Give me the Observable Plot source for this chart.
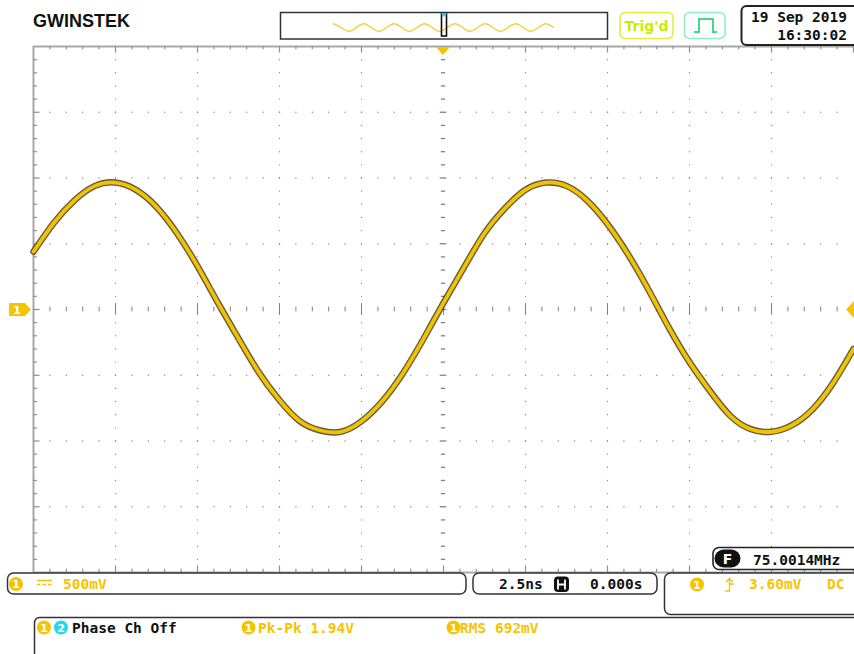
<!DOCTYPE html>
<html><head><meta charset="utf-8">
<script src="https://cdn.jsdelivr.net/npm/d3@7"></script>
<script src="https://cdn.jsdelivr.net/npm/@observablehq/plot@0.6"></script>
<style>
body{margin:0;background:#fff;}
#scope{position:relative;width:854px;height:654px;overflow:hidden;background:#fff;}
#scope svg{position:absolute;left:0;top:0;}
</style></head>
<body>
<div id="scope"></div>
<script>
// ---- data (channel 1 trace, 2.5 ns/div, 500 mV/div) ----
const timeNs = [-12.5,-11.875,-11.25,-10.625,-10,-9.375,-8.75,-8.125,-7.5,-6.875,-6.25,-5.625,-5,-4.375,-3.75,-3.125,-2.5,-1.875,-1.25,-0.625,0,0.625,1.25,1.875,2.5,3.125,3.75,4.375,5,5.625,6.25,6.875,7.5,8.125,8.75,9.375,10,10.625,11.25,11.875,12.5];
const voltsV = [0.44,0.66,0.83,0.94,0.965,0.91,0.78,0.58,0.33,0.05,-0.22,-0.48,-0.69,-0.85,-0.92,-0.93,-0.85,-0.70,-0.49,-0.23,0.05,0.32,0.58,0.77,0.91,0.965,0.94,0.83,0.65,0.42,0.15,-0.14,-0.40,-0.62,-0.81,-0.91,-0.93,-0.88,-0.76,-0.56,-0.30];
const xMajorNs = [-12.5,-10,-7.5,-5,-2.5,0,2.5,5,7.5,10,12.5];
const yMajorV = [-2,-1.5,-1,-0.5,0,0.5,1,1.5,2];
// overview strip (whole memory) : normalized samples at quarter periods
const miniWave = [1,0,-1,0,1,0,-1,0,1,0,-1,0,1,0,-1,0,1,0,-1,0,1,0,-1,0,1,0,-1,0,1,0];

const Y = "#f7c300";
const trace = timeNs.map((t, i) => ({t, v: voltsV[i]}));
const xMinor = d3.range(0, 51).map(i => +(-12.5 + i * 0.5).toFixed(2));
const yMinor = d3.range(0, 41).map(i => +(-2 + i * 0.1).toFixed(2));
const xMajorSet = new Set(xMajorNs), yMajorSet = new Set(yMajorV);

const gridV = xMajorNs.filter(x => x > -12.5 && x < 12.5 && x !== 0)
  .flatMap(x => yMinor.filter(y => y > -2 && y < 2).map(y => ({x, y})));
const gridH = yMajorV.filter(y => y > -2 && y < 2 && y !== 0)
  .flatMap(y => xMinor.filter(x => x > -12.5 && x < 12.5 && x !== 0).map(x => ({x, y})));
const cY = yMinor.filter(y => y > -2 && y < 2).map(y => ({y, big: yMajorSet.has(y)}));
const cX = xMinor.filter(x => x > -12.5 && x < 12.5).map(x => ({x, big: xMajorSet.has(x)}));

const chart = Plot.plot({
  width: 854, height: 654,
  marginLeft: 33, marginRight: 1, marginTop: 46, marginBottom: 82,
  x: {domain: [-12.5, 12.5], axis: null},
  y: {domain: [-2, 2], axis: null},
  style: {background: "transparent"},
  marks: [
    Plot.dot(gridV, {x: "x", y: "y", r: 0.7, fill: "#8a8a8a", stroke: null}),
    Plot.dot(gridH, {x: "x", y: "y", r: 0.7, fill: "#8a8a8a", stroke: null}),
    // centre cross
    Plot.ruleY(cY, {y: "y", x1: d => d.big ? -0.1 : -0.065, x2: d => d.big ? 0.1 : 0.065, stroke: "#808080", strokeWidth: 1.3}),
    Plot.ruleX(cX, {x: "x", y1: d => d.big ? -0.045 : -0.018, y2: d => d.big ? 0.045 : 0.018, stroke: "#808080", strokeWidth: 1}),
    // frame
    Plot.ruleY([2], {stroke: "#a8a8a8", strokeWidth: 2}),
    Plot.ruleY([-2], {stroke: "#a8a8a8", strokeWidth: 2}),
    Plot.ruleX([-12.5], {stroke: "#a8a8a8", strokeWidth: 2}),
    Plot.ruleX(xMinor.filter(x => x > -12.5), {x: d => d, y1: 2, y2: d => xMajorSet.has(d) ? 1.95 : 1.975, stroke: "#909090", strokeWidth: 1.2}),
    Plot.ruleX(xMinor.filter(x => x > -12.5), {x: d => d, y1: -2, y2: d => xMajorSet.has(d) ? -1.95 : -1.975, stroke: "#909090", strokeWidth: 1.2}),
    Plot.ruleY(yMinor.filter(y => y > -2 && y < 2), {y: d => d, x1: -12.5, x2: d => yMajorSet.has(d) ? -12.3 : -12.38, stroke: "#909090", strokeWidth: 1.2}),
    // trace (noise envelope + yellow core)
    Plot.line(trace, {x: "t", y: "v", curve: "natural", stroke: "#2e2400", strokeWidth: 6.5, strokeOpacity: 0.75}),
    Plot.line(trace, {x: "t", y: "v", curve: "natural", stroke: "#f2c200", strokeWidth: 3.8})
  ]
});
const scope = document.getElementById("scope");
scope.appendChild(chart);

// overview strip as its own small plot
const mini = Plot.plot({
  width: 222, height: 14, margin: 1,
  x: {domain: [0, miniWave.length - 1], axis: null},
  y: {domain: [-1.6, 1.6], axis: null},
  marks: [Plot.line(miniWave, {x: (d, i) => i, y: d => d, curve: "natural", stroke: "#f5cf3a", strokeWidth: 1.4})]
});
mini.style.position = "absolute"; mini.style.left = "332px"; mini.style.top = "19.5px";

// ---- oscilloscope chrome ----
const M = 'font-family="DejaVu Sans Mono" font-weight="bold" font-size="14.5"';
const circ = (cx, cy, col, d) => `<circle cx="${cx}" cy="${cy}" r="7" fill="${col}"/><text x="${cx}" y="${cy + 4}" text-anchor="middle" font-family="DejaVu Sans" font-weight="bold" font-size="11" fill="#fff">${d}</text>`;
const chrome = `
<svg width="854" height="654" xmlns="http://www.w3.org/2000/svg">
 <text x="33" y="27" font-family="Liberation Sans" font-weight="900" font-size="19" fill="#111" textLength="97" lengthAdjust="spacingAndGlyphs">GWINSTEK</text>
 <rect x="280.5" y="12.5" width="327" height="26.5" fill="none" stroke="#333" stroke-width="1.5"/>
 <rect x="620" y="12.5" width="53" height="26" rx="5" fill="none" stroke="#def040" stroke-width="1.6"/>
 <text x="646.5" y="30.5" text-anchor="middle" font-family="DejaVu Sans" font-weight="bold" font-size="14" fill="#c8ee00">Trig'd</text>
 <rect x="684.5" y="12.5" width="40.5" height="26" rx="5" fill="none" stroke="#8ff0bf" stroke-width="1.6"/>
 <path d="M694,32 H699 V19 H713 V32 H717" fill="none" stroke="#3fd98c" stroke-width="2"/>
 <rect x="741.5" y="6" width="120" height="39" rx="5" fill="#fff" stroke="#222" stroke-width="2"/>
 <text x="847" y="22" text-anchor="end" ${M} fill="#111">19 Sep 2019</text>
 <text x="847" y="39.5" text-anchor="end" ${M} fill="#111">16:30:02</text>
 <path d="M436,47 L450,47 L443,55 Z" fill="${Y}"/>
 <path d="M9,303 L25,303 L31,309.5 L25,316 L9,316 Z" fill="${Y}"/>
 <text x="17" y="314" text-anchor="middle" font-family="DejaVu Sans" font-weight="bold" font-size="11" fill="#fff">1</text>
 <path d="M854,301 L846,309.5 L854,318 Z" fill="${Y}"/>
 <rect x="713" y="547.5" width="150" height="22" rx="6" fill="#fff" stroke="#222" stroke-width="1.6"/>
 <rect x="714.5" y="549.5" width="26" height="18" rx="9" fill="#111"/>
 <text x="727.5" y="563.5" text-anchor="middle" font-family="DejaVu Sans" font-weight="bold" font-size="14" fill="#fff">F</text>
 <text x="753" y="565" ${M} fill="#111">75.0014MHz</text>
 <rect x="7.5" y="573" width="458.5" height="21" rx="6" fill="#fff" stroke="#333" stroke-width="1.5"/>
 ${circ(16, 584, Y, "1")}
 <path d="M37,580.5 H52" stroke="${Y}" stroke-width="1.6"/>
 <path d="M37,584.5 H52" stroke="${Y}" stroke-width="1.6" stroke-dasharray="3.5,2"/>
 <text x="63" y="588.5" ${M} fill="${Y}">500mV</text>
 <rect x="473" y="573" width="184" height="21" rx="6" fill="#fff" stroke="#333" stroke-width="1.5"/>
 <text x="499" y="588.5" ${M} fill="#111">2.5ns</text>
 <rect x="554" y="576.5" width="15" height="15.5" rx="4" fill="#111"/>
 <path d="M558,579.5 V589.5 M565,579.5 V589.5 M558,584.5 H565" stroke="#fff" stroke-width="1.8"/>
 <text x="590" y="588.5" ${M} fill="#111">0.000s</text>
 <rect x="664.5" y="573" width="200" height="41.5" rx="6" fill="#fff" stroke="#333" stroke-width="1.5"/>
 ${circ(697, 584.5, Y, "1")}
 <path d="M725,591 H729.5 V578.5 M726,582 L729.5,578.5 L733,582 M729.5,584 H734" fill="none" stroke="${Y}" stroke-width="1.4"/>
 <text x="749" y="588.5" ${M} fill="${Y}">3.60mV</text>
 <text x="827" y="588.5" ${M} fill="${Y}">DC</text>
 <rect x="34.5" y="617.5" width="840" height="60" rx="5" fill="#fff" stroke="#333" stroke-width="1.5"/>
 ${circ(44, 627.5, Y, "1")}
 ${circ(61, 627.5, "#20d8f0", "2")}
 <text x="72" y="633" ${M} fill="#111">Phase Ch Off</text>
 ${circ(248.5, 627.5, Y, "1")}
 <text x="258" y="633" ${M} fill="${Y}">Pk-Pk 1.94V</text>
 <text x="460" y="633" ${M} fill="${Y}">RMS 692mV</text>
 ${circ(453.5, 627.5, Y, "1")}
</svg>`;
const holder = document.createElement("div");
holder.innerHTML = chrome;
scope.appendChild(holder.firstElementChild);
scope.appendChild(mini);
// viewport marker on overview strip
const vp = document.createElement("div");
vp.innerHTML = `<svg width="854" height="60" xmlns="http://www.w3.org/2000/svg" style="position:absolute;left:0;top:0"><rect x="441.5" y="13.5" width="5" height="22.5" fill="none" stroke="#111" stroke-width="1.6"/><path d="M441,13 L447,13 L444,17 Z" fill="#20d0e8"/></svg>`;
scope.appendChild(vp.firstElementChild);
</script>
</body></html>
